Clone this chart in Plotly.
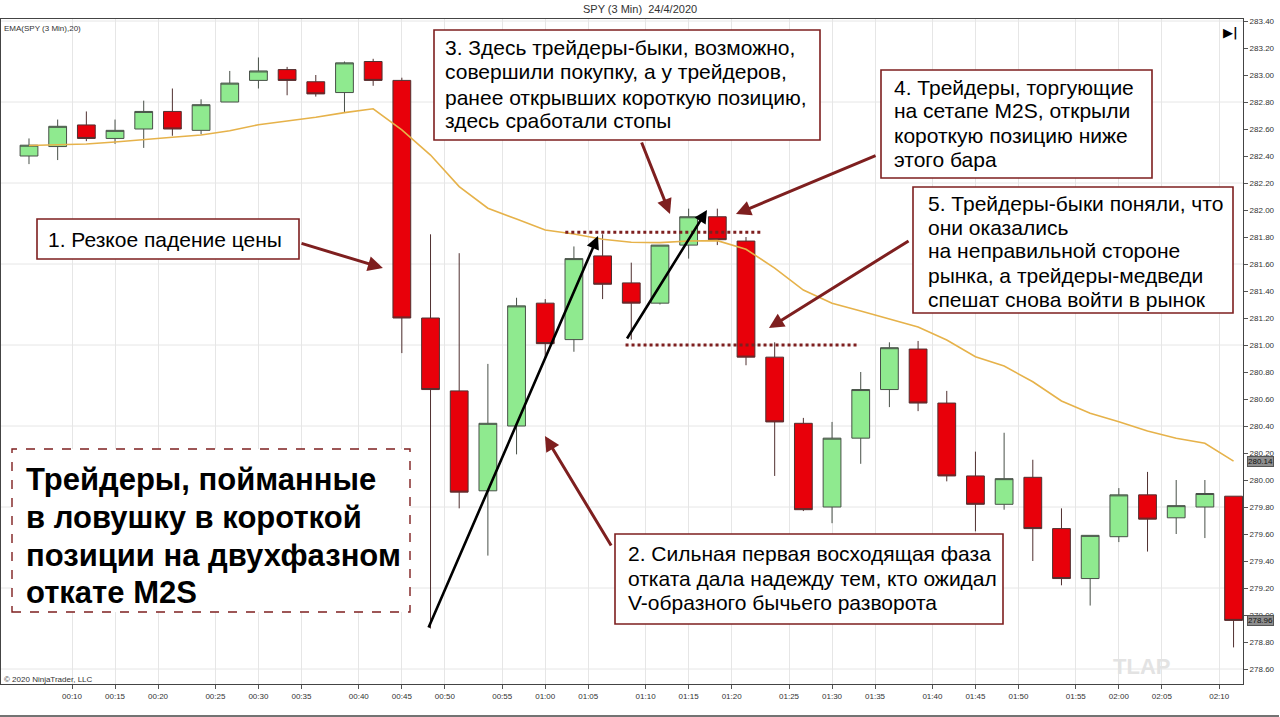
import plotly.graph_objects as go

# ---------------- data ----------------
bar_index = list(range(43))
open_ = [282.40, 282.47, 282.63, 282.53, 282.60, 282.73, 282.59, 282.80, 282.96, 283.04,
         282.95, 282.87, 283.10, 282.96, 281.20, 280.66, 279.92, 280.40, 281.31, 281.04,
         281.66, 281.46, 281.31, 281.74, 281.95, 281.77, 280.91, 280.42, 279.80, 280.31,
         280.67, 280.97, 280.57, 280.03, 279.82, 280.02, 279.64, 279.27, 279.58, 279.89,
         279.72, 279.80, 279.88]
high = [282.53, 282.67, 282.73, 282.67, 282.81, 282.90, 282.82, 283.03, 283.13, 283.06,
        283.00, 283.10, 283.12, 282.98, 281.82, 281.68, 280.86, 281.35, 281.34, 281.73,
        281.82, 281.61, 281.74, 282.01, 282.01, 281.80, 281.02, 280.46, 280.43, 280.80,
        281.02, 281.03, 280.66, 280.21, 280.35, 280.15, 279.79, 279.59, 279.94, 280.06,
        280.00, 280.00, 279.88]
low = [282.34, 282.37, 282.51, 282.49, 282.46, 282.55, 282.56, 282.80, 282.90, 282.85,
       282.84, 282.72, 282.92, 280.94, 278.90, 279.79, 279.44, 280.19, 280.90, 280.95,
       281.34, 281.04, 281.30, 281.64, 281.74, 280.85, 280.03, 279.77, 279.68, 280.12,
       280.54, 280.51, 279.99, 279.62, 279.78, 279.40, 279.22, 279.07, 279.54, 279.47,
       279.60, 279.57, 278.76]
close = [282.48, 282.62, 282.53, 282.59, 282.73, 282.60, 282.78, 282.94, 283.03, 282.96,
         282.86, 283.09, 282.96, 281.20, 280.67, 279.91, 280.42, 281.29, 281.01, 281.64,
         281.45, 281.31, 281.74, 281.95, 281.78, 280.91, 280.43, 279.78, 280.31, 280.67,
         280.98, 280.57, 280.03, 279.82, 280.01, 279.64, 279.27, 279.59, 279.89, 279.71,
         279.81, 279.90, 278.96]
ema20 = [282.478, 282.481, 282.489, 282.504, 282.524, 282.539, 282.556, 282.587, 282.632, 282.659,
         282.687, 282.721, 282.750, 282.593, 282.407, 282.173, 282.013, 281.933, 281.852, 281.822,
         281.783, 281.761, 281.758, 281.770, 281.773, 281.709, 281.570, 281.407, 281.309, 281.252,
         281.193, 281.133, 281.037, 280.913, 280.844, 280.728, 280.585, 280.494, 280.432, 280.363,
         280.309, 280.272, 280.14]
time_tick_text = ["00:10", "00:15", "00:20", "00:25", "00:30", "00:35", "00:40", "00:45", "00:50",
                  "00:55", "01:00", "01:05", "01:10", "01:15", "01:20", "01:25", "01:30", "01:35",
                  "01:40", "01:45", "01:50", "01:55", "02:00", "02:05", "02:10"]
time_tick_pos = [1.5, 3, 4.5, 6.5, 8, 9.5, 11.5, 13, 14.5, 16.5, 18, 19.5, 21.5, 23, 24.5,
                 26.5, 28, 29.5, 31.5, 33, 34.5, 36.5, 38, 39.5, 41.5]
stop_level = [281.835, 281.835]
stop_span = [18.7, 25.55]
entry_level = [281.0, 281.0]
entry_span = [20.8, 28.9]

# ---------------- layout geometry ----------------
W, H = 1280, 717
ML, MR, MT, MB = 1, 37, 19, 33
PW, PH = W - ML - MR, H - MT - MB


def pp(px, py):
    """pixel -> paper coords"""
    return (px - ML) / PW, (H - MB - py) / PH


FONT = "Liberation Sans, Arial, sans-serif"
DARKRED = "#7E1F1F"

fig = go.Figure()

fig.add_trace(go.Candlestick(
    x=bar_index, open=open_, high=high, low=low, close=close,
    increasing=dict(fillcolor="#8FEA8F", line=dict(color="#485048", width=1)),
    decreasing=dict(fillcolor="#E8000A", line=dict(color="#503030", width=1)),
    whiskerwidth=0, hoverinfo="skip", showlegend=False))

fig.add_trace(go.Scatter(x=bar_index, y=ema20, mode="lines",
                         line=dict(color="#E6B24A", width=1.6),
                         hoverinfo="skip", showlegend=False))

# dotted levels
for xs, ys in ((stop_span, stop_level), (entry_span, entry_level)):
    fig.add_trace(go.Scatter(x=xs, y=ys, mode="lines",
                             line=dict(color=DARKRED, width=3, dash="dot"),
                             hoverinfo="skip", showlegend=False))

shapes = []
# horizontal grid lines
g = 278.6
while g < 283.5:
    shapes.append(dict(type="line", xref="paper", yref="y", x0=0, x1=1, y0=g, y1=g,
                       line=dict(color="#E6E6E6", width=1), layer="below"))
    g = round(g + 0.6, 2)

# outer bottom border
x0p, y0p = pp(0, 716)
x1p, _ = pp(1279, 716)
shapes.append(dict(type="line", xref="paper", yref="paper", x0=x0p, x1=x1p, y0=y0p, y1=y0p,
                   line=dict(color="#444", width=1.5)))


def box(x0, y0, x1, y1, dash="solid", width=1.6):
    a, b = pp(x0, y0)
    c, d = pp(x1, y1)
    shapes.append(dict(type="rect", xref="paper", yref="paper", x0=a, y0=d, x1=c, y1=b,
                       line=dict(color=DARKRED, width=width, dash=dash), fillcolor="white",
                       layer="above"))


box(37, 219, 299, 259)
box(615, 534, 1003, 624)
box(434, 30, 820, 140)
box(881, 70, 1152, 178)
box(913, 187, 1233, 313)
box(12, 449, 410, 612, dash="dash", width=1.4)

annotations = []


def lines(x, ys, texts, size=21, bold=False):
    for y, t in zip(ys, texts):
        a, b = pp(x, y)
        annotations.append(dict(xref="paper", yref="paper", x=a, y=b, xanchor="left",
                                yanchor="middle", showarrow=False, text=t,
                                font=dict(family=FONT, size=size, color="#000",
                                          weight="bold" if bold else "normal")))


lines(46, [239], ["1. Резкое падение цены"])
lines(626, [553, 578, 602], ["2. Сильная первая восходящая фаза",
                              "отката дала надежду тем, кто ожидал",
                              "V-образного бычьего разворота"])
lines(443, [47, 72, 97, 121], ["3. Здесь трейдеры-быки, возможно,",
                                "совершили покупку, а у трейдеров,",
                                "ранее открывших короткую позицию,",
                                "здесь сработали стопы"])
lines(892, [87, 111, 135, 159], ["4. Трейдеры, торгующие",
                                  "на сетапе M2S, открыли",
                                  "короткую позицию ниже",
                                  "этого бара"])
lines(926, [203, 227, 251, 275, 299], ["5. Трейдеры-быки поняли, что",
                                        "они оказались",
                                        "на неправильной стороне",
                                        "рынка, а трейдеры-медведи",
                                        "спешат снова войти в рынок"])
lines(24, [479, 517, 555, 592], ["Трейдеры, пойманные",
                                  "в ловушку в короткой",
                                  "позиции на двухфазном",
                                  "откате M2S"], size=31, bold=True)

# arrows (tip, tail) in data coordinates
red_arrows = [((12.34, 281.570), (9.45, 281.756)),
              ((17.99, 280.326), (20.33, 279.504)),
              ((22.35, 281.970), (21.34, 282.511)),
              ((24.65, 281.970), (29.57, 282.407)),
              ((25.80, 281.126), (30.72, 281.778))]
black_arrows = [((19.84, 281.807), (13.91, 278.896)),
                ((23.64, 282.000), (20.82, 281.037))]
for arrows, col, wdt in ((red_arrows, DARKRED, 3), (black_arrows, "#000", 2.6)):
    for (hx, hy), (tx, ty) in arrows:
        annotations.append(dict(x=hx, y=hy, xref="x", yref="y", ax=tx, ay=ty,
                                axref="x", ayref="y", text="", showarrow=True,
                                arrowhead=2, arrowsize=1, arrowwidth=wdt,
                                arrowcolor=col, standoff=0, startstandoff=0))

# small texts
small = [(640, 9, "SPY (3 Min)  24/4/2020", 11, "center", "#333"),
         (2, 28, "EMA(SPY (3 Min),20)", 8, "left", "#333"),
         (2, 679, "© 2020 NinjaTrader, LLC", 8, "left", "#333")]
for x, y, t, s, anc, col in small:
    a, b = pp(x, y)
    annotations.append(dict(xref="paper", yref="paper", x=a, y=b, xanchor=anc,
                            yanchor="middle", showarrow=False, text=t,
                            font=dict(family=FONT, size=s, color=col)))

a, b = pp(1141, 666)
annotations.append(dict(xref="paper", yref="paper", x=a, y=b, xanchor="center", yanchor="middle",
                        showarrow=False, text="TLAP",
                        font=dict(family=FONT, size=22, color="#E3E3E3", weight="bold")))
a, b = pp(1230, 33)
annotations.append(dict(xref="paper", yref="paper", x=a, y=b, xanchor="center", yanchor="middle",
                        showarrow=False, text="▶|",
                        font=dict(family="DejaVu Sans", size=13, color="#000", weight="bold")))

# price tags on right axis
for val in (ema20[-1], close[-1]):
    a, _ = pp(1247, 0)
    annotations.append(dict(xref="paper", yref="y", x=a, y=val, xanchor="left", yanchor="middle",
                            showarrow=False, text=f"{val:.2f}", bgcolor="#8E8E8E",
                            bordercolor="#555", borderwidth=1, borderpad=0,
                            font=dict(family=FONT, size=8, color="#111")))

fig.update_layout(
    width=W, height=H,
    margin=dict(l=ML, r=MR, t=MT, b=MB),
    paper_bgcolor="white", plot_bgcolor="white",
    boxgap=0.38, boxgroupgap=0,
    shapes=shapes, annotations=annotations,
    xaxis=dict(range=[-0.976, 42.329], tickvals=time_tick_pos, ticktext=time_tick_text,
               showgrid=True, gridcolor="#E6E6E6", zeroline=False,
               showline=True, linecolor="#444", linewidth=1, mirror=True,
               ticks="outside", ticklen=4, tickcolor="#555",
               tickfont=dict(family=FONT, size=8, color="#333"),
               rangeslider=dict(visible=False), fixedrange=True),
    yaxis=dict(range=[278.4889, 283.4148], side="right", tick0=278.6, dtick=0.2,
               tickformat=".2f", showgrid=False, zeroline=False,
               showline=True, linecolor="#444", linewidth=1, mirror=True,
               ticks="outside", ticklen=4, tickcolor="#555",
               tickfont=dict(family=FONT, size=8, color="#333"), fixedrange=True),
)

fig.write_html("out.html")
